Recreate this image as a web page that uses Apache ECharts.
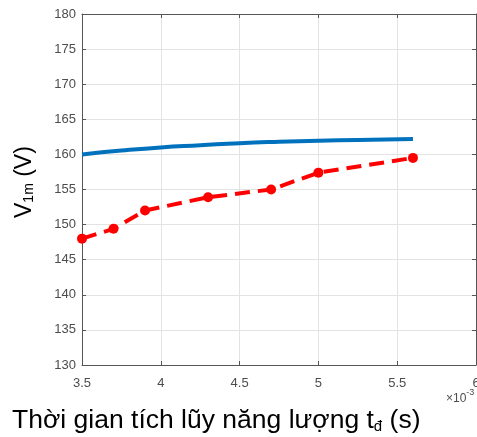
<!DOCTYPE html>
<html>
<head>
<meta charset="utf-8">
<script src="https://cdn.jsdelivr.net/npm/echarts@6/dist/echarts.min.js"></script>
<style>html,body{margin:0;padding:0;background:#fff;}#c{width:477px;height:437px;}</style>
</head>
<body>
<div id="c"></div>
<script>
// Data (time in units of 1e-3 s, voltage in V)
var blueX = [3.5, 3.75, 4.0, 4.25, 4.5, 4.75, 5.0, 5.25, 5.6];
var blueY = [160.0, 160.55, 161.0, 161.3, 161.6, 161.8, 161.95, 162.05, 162.2];
var redX = [3.5, 3.7, 3.9, 4.3, 4.7, 5.0, 5.6];
var redY = [148.0, 149.4, 152.0, 153.9, 155.0, 157.4, 159.5];
var xTicks = [3.5, 4, 4.5, 5, 5.5, 6];
var yTicks = [130, 135, 140, 145, 150, 155, 160, 165, 170, 175, 180];

function pairs(xs, ys) { return xs.map(function (x, i) { return [x, ys[i]]; }); }

var chart = echarts.init(document.getElementById('c'), null, {renderer: 'canvas'});
var axisColor = '#555555';
var font = 'Liberation Sans, Arial, sans-serif';
chart.setOption({
  animation: false,
  backgroundColor: '#ffffff',
  grid: {left: 82, right: 1, top: 14, bottom: 72, containLabel: false, outerBoundsMode: 'none'},
  xAxis: [{
    type: 'value', min: xTicks[0], max: xTicks[xTicks.length - 1], interval: 0.5,
    axisLine: {show: true, lineStyle: {color: axisColor, width: 1}},
    axisTick: {show: true, inside: true, length: 4, lineStyle: {color: axisColor}},
    axisLabel: {color: '#4d4d4d', fontSize: 13, fontFamily: font, margin: 12},
    splitLine: {show: true, lineStyle: {color: '#e3e3e3', width: 1}}
  }, {
    type: 'value', position: 'top', min: xTicks[0], max: xTicks[xTicks.length - 1], interval: 0.5,
    axisLine: {show: true, onZero: false, lineStyle: {color: axisColor, width: 1}},
    axisTick: {show: true, inside: true, length: 4, lineStyle: {color: axisColor}},
    axisLabel: {show: false}, splitLine: {show: false}
  }],
  yAxis: [{
    type: 'value', min: yTicks[0], max: yTicks[yTicks.length - 1], interval: 5,
    axisLine: {show: true, lineStyle: {color: axisColor, width: 1}},
    axisTick: {show: true, inside: true, length: 4, lineStyle: {color: axisColor}},
    axisLabel: {color: '#4d4d4d', fontSize: 13, fontFamily: font, margin: 6},
    splitLine: {show: true, lineStyle: {color: '#e3e3e3', width: 1}}
  }, {
    type: 'value', position: 'right', min: yTicks[0], max: yTicks[yTicks.length - 1], interval: 5,
    axisLine: {show: true, onZero: false, lineStyle: {color: axisColor, width: 1}},
    axisTick: {show: true, inside: true, length: 4, lineStyle: {color: axisColor}},
    axisLabel: {show: false}, splitLine: {show: false}
  }],
  series: [{
    type: 'line', data: pairs(blueX, blueY), smooth: true, showSymbol: false, symbol: 'none',
    lineStyle: {color: '#0072BD', width: 4}, z: 3
  }, {
    type: 'line', data: pairs(redX, redY), symbol: 'circle', symbolSize: 10,
    itemStyle: {color: '#FF0000'},
    lineStyle: {color: '#FF0000', width: 4, type: [15, 8]}, z: 4
  }],
  graphic: [{
    type: 'text', left: 12, top: 407,
    style: {
      text: '{m|Thời gian tích lũy năng lượng t}{s|đ}{m| (s)}',
      rich: {
        m: {fontSize: 26.5, fontFamily: font, fill: '#000', lineHeight: 30, verticalAlign: 'bottom'},
        s: {fontSize: 15, fontFamily: font, fill: '#000', lineHeight: 14, verticalAlign: 'bottom'}
      }
    }
  }, {
    type: 'text', left: 446, top: 388,
    style: {
      text: '{a|×10}{b|-3}',
      rich: {
        a: {fontSize: 12, fontFamily: font, fill: '#4d4d4d', lineHeight: 14, verticalAlign: 'bottom'},
        b: {fontSize: 9, fontFamily: font, fill: '#4d4d4d', lineHeight: 17, verticalAlign: 'top'}
      }
    }
  }, {
    type: 'text', x: 10, y: 218, rotation: Math.PI / 2,
    style: {
      text: '{m|V}{s|1m}{m| (V)}',
      rich: {
        m: {fontSize: 23, fontFamily: font, fill: '#000', lineHeight: 26, verticalAlign: 'bottom'},
        s: {fontSize: 14, fontFamily: font, fill: '#000', lineHeight: 12, verticalAlign: 'bottom'}
      }
    }
  }]
});
</script>
</body>
</html>
